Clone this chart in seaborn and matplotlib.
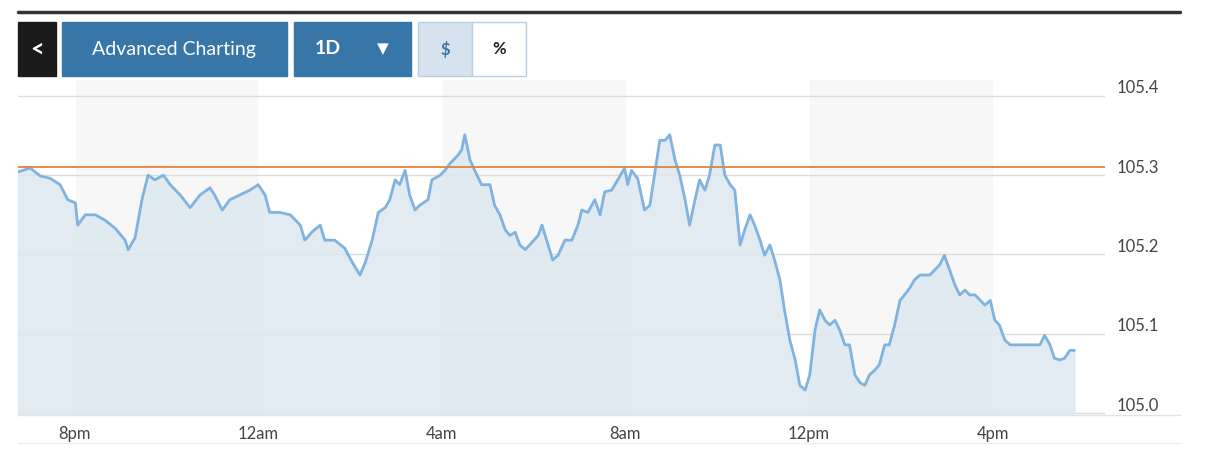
import matplotlib
matplotlib.use("Agg")
import matplotlib.pyplot as plt
import matplotlib.transforms as mtrans
import seaborn as sns
import pandas as pd
from matplotlib.patches import Rectangle

# minutes since 18:44
minutes = [0,16,29,42,55,65,75,78,88,101,114,127,140,144,153,162,170,179,190,199,212,225,238,251,257,267,277,290,303,314,
           323,329,342,356,369,375,384,395,401,414,427,437,447,454,463,471,480,486,493,499,506,512,519,525,536,541,552,558,565,575,
           580,584,591,597,606,617,623,630,637,643,650,656,663,669,680,685,693,699,706,715,724,732,737,745,754,761,767,776,784,793,
           797,802,810,819,826,833,839,846,852,859,865,872,878,885,891,898,904,911,918,924,931,937,944,950,957,963,970,976,983,989,
           996,1002,1009,1016,1022,1029,1035,1042,1048,1055,1061,1068,1074,1081,1087,1094,1101,1107,1113,1120,1126,1133,1139,1146,1153,1159,1166,1172,1179,1185,
           1192,1198,1205,1211,1218,1225,1231,1238,1244,1251,1258,1264,1271,1277,1283,1290,1297,1310,1323,1336,1342,1349,1355,1362,1368,1375,1381]
prices = [105.304,105.309,105.299,105.296,105.288,105.269,105.265,105.237,105.250,105.250,105.243,105.233,105.218,105.206,105.221,105.269,105.300,105.294,105.300,105.288,
          105.275,105.259,105.275,105.284,105.275,105.256,105.269,105.275,105.281,105.288,105.275,105.253,105.253,105.250,105.237,105.218,105.228,105.237,105.218,105.218,
          105.208,105.190,105.174,105.190,105.218,105.253,105.259,105.269,105.294,105.288,105.306,105.275,105.256,105.262,105.269,105.294,105.300,105.306,105.315,105.325,
          105.332,105.351,105.319,105.306,105.288,105.288,105.262,105.250,105.231,105.224,105.228,105.212,105.206,105.212,105.224,105.237,105.212,105.193,105.199,105.218,
          105.218,105.237,105.256,105.253,105.269,105.250,105.279,105.281,105.294,105.309,105.288,105.306,105.296,105.256,105.262,105.306,105.344,105.344,105.351,105.319,
          105.300,105.269,105.237,105.269,105.294,105.281,105.300,105.338,105.338,105.300,105.288,105.281,105.212,105.231,105.250,105.237,105.218,105.199,105.212,105.193,
          105.168,105.130,105.092,105.067,105.035,105.029,105.048,105.105,105.130,105.117,105.111,105.117,105.105,105.086,105.086,105.048,105.038,105.035,105.048,105.054,
          105.061,105.086,105.086,105.111,105.142,105.149,105.158,105.168,105.174,105.174,105.174,105.180,105.187,105.199,105.180,105.161,105.149,105.155,105.149,105.149,
          105.142,105.136,105.142,105.117,105.111,105.092,105.086,105.086,105.086,105.086,105.098,105.086,105.069,105.067,105.069,105.079,105.079]
n = min(len(minutes), len(prices))
df = pd.DataFrame({"t": minutes[:n], "price": prices[:n]})

prev_close = 105.31
tick_pos = [76, 316, 556, 796, 1036, 1276]
tick_labels = ["8pm", "12am", "4am", "8am", "12pm", "4pm"]
y_ticks = [105.0, 105.1, 105.2, 105.3, 105.4]

sns.set_style("white")
plt.rcParams["font.family"] = ["Lato", "DejaVu Sans"]
fig = plt.figure(figsize=(12.29, 4.70), dpi=100)
ax = fig.add_axes([18/1229, 1-415/470, 1087/1229, 335/470])

for a, b in [(76, 313), (556, 793), (1036, 1273)]:
    ax.axvspan(a, b, color="#f7f7f7", zorder=0)
for y in y_ticks:
    ax.axhline(y, color="#dcdcdc", lw=1, zorder=1)

ax.fill_between(df["t"], 104.99, df["price"], color="#dde8f0", alpha=0.85, zorder=2)
sns.lineplot(data=df, x="t", y="price", ax=ax, color="#80b3e0", lw=2, zorder=3)
ax.axhline(prev_close, color="#e0843f", lw=1.3, zorder=4)

ax.set_xlim(0, 1421)
ax.set_ylim(104.9975, 105.42)
ax.set_xticks([p - 2 for p in tick_pos])
ax.set_xticklabels(tick_labels, fontsize=12, color="#444444")
ax.yaxis.tick_right()
ax.set_yticks(y_ticks)
ax.set_yticklabels([f"{v:.1f}" for v in y_ticks], fontsize=12, color="#444444")
ax.tick_params(length=0, pad=8)
off = mtrans.ScaledTranslation(0, 9/100, fig.dpi_scale_trans)
for lab in ax.get_yticklabels():
    lab.set_transform(lab.get_transform() + off)
ax.set_xlabel(""); ax.set_ylabel("")
for s in ax.spines.values():
    s.set_visible(False)

def fx(px): return px/1229
def fy(py): return 1-py/470
fig.add_artist(plt.Line2D([fx(18), fx(1180)], [fy(12), fy(12)], color="#333333", lw=2.5))
fig.add_artist(plt.Line2D([fx(18), fx(1180)], [fy(415), fy(415)], color="#e3e3e3", lw=1))
fig.add_artist(plt.Line2D([fx(18), fx(1180)], [fy(443), fy(443)], color="#eeeeee", lw=1))

def box(x0, x1, fc, ec=None):
    fig.add_artist(Rectangle((fx(x0), fy(76)), fx(x1-x0), (76-22)/470, facecolor=fc,
                             edgecolor=ec if ec else fc, lw=1, transform=fig.transFigure))
box(18, 56, "#1a1a1a")
box(62, 287, "#3876a8")
box(294, 411, "#3876a8")
box(418, 472, "#d6e3ee", "#b9cfe2")
box(472, 526, "#ffffff", "#b9cfe2")
ty = fy(49)
fig.text(fx(37), ty, "<", color="white", fontsize=17, fontweight="bold", ha="center", va="center")
fig.text(fx(174), ty, "Advanced Charting", color="white", fontsize=14, ha="center", va="center")
fig.text(fx(328), ty, "1D", color="white", fontsize=14, fontweight="bold", ha="center", va="center")
fig.text(fx(383), ty, "▼", color="white", fontsize=11, ha="center", va="center", family="DejaVu Sans")
fig.text(fx(445), ty, "$", color="#3876a8", fontsize=12, fontweight="bold", ha="center", va="center")
fig.text(fx(499), ty, "%", color="#222222", fontsize=12, fontweight="bold", ha="center", va="center")

fig.savefig("out.png", dpi=100)
